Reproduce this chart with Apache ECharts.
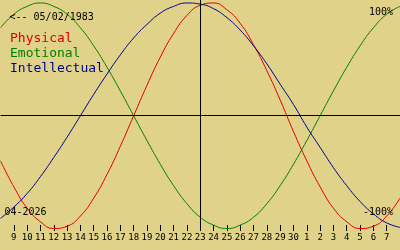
<!DOCTYPE html>
<html>
<head>
<meta charset="utf-8">
<script src="https://cdn.jsdelivr.net/npm/echarts@6/dist/echarts.min.js"></script>
<style>
  html, body { margin: 0; padding: 0; background: #e0d288; }
  #chart { width: 400px; height: 250px; }
</style>
</head>
<body>
<div id="chart"></div>
<script>
// Days shown (April 8 .. May 8, 2026)
const dates = ['04-08','04-09','04-10','04-11','04-12','04-13','04-14','04-15','04-16','04-17',
  '04-18','04-19','04-20','04-21','04-22','04-23','04-24','04-25','04-26','04-27',
  '04-28','04-29','04-30','05-01','05-02','05-03','05-04','05-05','05-06','05-07','05-08'];
const today = '04-23';
const birthLabel = '<-- 05/02/1983';
const monthLabel = '04-2026';
const seriesNames = ['Physical', 'Emotional', 'Intellectual'];
const physical = [-0.40,-0.63,-0.82,-0.94,-1.00,-0.98,-0.89,-0.73,-0.52,-0.27,0,0.27,0.52,0.73,0.89,0.98,1.00,0.94,0.82,0.63,0.40,0.14,-0.14,-0.40,-0.63,-0.82,-0.94,-1.00,-0.98,-0.89,-0.73];
const emotional = [0.78,0.90,0.97,1.00,0.97,0.90,0.78,0.62,0.43,0.22,0,-0.22,-0.43,-0.62,-0.78,-0.90,-0.97,-1.00,-0.97,-0.90,-0.78,-0.62,-0.43,-0.22,0,0.22,0.43,0.62,0.78,0.90,0.97];
const intellectual = [-0.91,-0.81,-0.69,-0.54,-0.37,-0.19,0,0.19,0.37,0.54,0.69,0.81,0.91,0.97,1.00,0.99,0.95,0.87,0.76,0.62,0.46,0.28,0.10,-0.10,-0.28,-0.46,-0.62,-0.76,-0.87,-0.95,-0.99];
const yLabels = ['100%', '-100%'];

const colors = ['#e00000', '#008000', '#000090'];
const mono = 'DejaVu Sans Mono';

const chart = echarts.init(document.getElementById('chart'), null, { renderer: 'canvas' });
const inner = (i) => i > 0 && i < dates.length - 1;

function lineSeries(name, data, color, extra) {
  return Object.assign({
    name: name,
    type: 'line',
    data: data,
    smooth: true,
    showSymbol: false,
    symbol: 'none',
    clip: false,
    silent: true,
    lineStyle: { color: color, width: 1 },
    itemStyle: { color: color },
    emphasis: { disabled: true }
  }, extra || {});
}

chart.setOption({
  animation: false,
  backgroundColor: '#e0d288',
  // y range slightly beyond +-100% so the today line and ticks reach the edges
  grid: { left: 0.5, width: 400, top: -0.5, bottom: 19, containLabel: false },
  title: [
    { text: birthLabel, left: 9.5, top: 12, padding: 0,
      textStyle: { fontFamily: mono, fontSize: 10, fontWeight: 'normal', color: '#000' } },
    { text: monthLabel, left: 4.5, top: 207, padding: 0,
      textStyle: { fontFamily: mono, fontSize: 10, fontWeight: 'normal', color: '#000' } },
    { text: yLabels[0], right: 7, top: 7, padding: 0,
      textStyle: { fontFamily: mono, fontSize: 10, fontWeight: 'normal', color: '#000' } },
    { text: yLabels[1], right: 7, top: 207, padding: 0,
      textStyle: { fontFamily: mono, fontSize: 10, fontWeight: 'normal', color: '#000' } }
  ],
  legend: {
    orient: 'vertical',
    left: 5,
    top: 32,
    padding: 0,
    itemGap: 2,
    itemWidth: 0,
    itemHeight: 13,
    icon: 'none',
    selectedMode: false,
    textStyle: { fontFamily: mono, fontSize: 13 },
    data: seriesNames.map((n, i) => ({ name: n, textStyle: { color: colors[i] } }))
  },
  xAxis: {
    type: 'category',
    data: dates,
    boundaryGap: false,
    axisLine: { show: false, onZero: false },
    axisTick: { show: true, inside: true, length: 6, interval: inner, lineStyle: { color: '#000', width: 1 } },
    axisLabel: {
      interval: inner,
      margin: 2,
      color: '#000',
      fontFamily: mono,
      fontSize: 9,
      fontWeight: 'normal',
      formatter: (v) => String(parseInt(v.slice(3), 10))
    },
    splitLine: { show: false }
  },
  yAxis: {
    type: 'value',
    min: -1.02212,
    max: 1.02655,
    show: false
  },
  series: [
    lineSeries(seriesNames[0], physical, colors[0], {
      markLine: {
        silent: true,
        symbol: 'none',
        label: { show: false },
        lineStyle: { color: '#000', width: 1, type: 'solid' },
        emphasis: { disabled: true },
        data: [
          { yAxis: 0 },
          { xAxis: today }
        ]
      }
    }),
    lineSeries(seriesNames[1], emotional, colors[1]),
    lineSeries(seriesNames[2], intellectual, colors[2])
  ]
});
</script>
</body>
</html>
